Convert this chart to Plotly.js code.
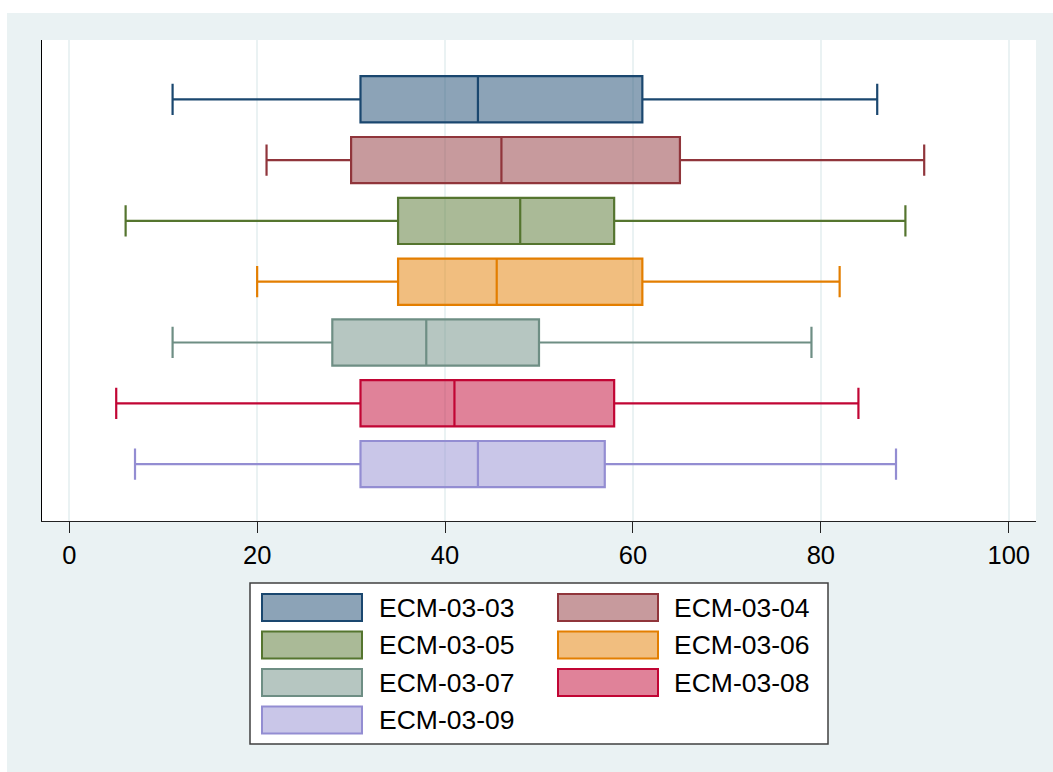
<!DOCTYPE html>
<html>
<head>
<meta charset="utf-8">
<script src="https://cdn.plot.ly/plotly-3.0.1.min.js"></script>
<style>
  html, body { margin: 0; padding: 0; background: #ffffff; width: 1053px; height: 772px; overflow: hidden; }
  #chart { position: absolute; left: 7px; top: 13px; width: 1046px; height: 759px; }
</style>
</head>
<body>
<div id="chart"></div>
<script>
// ---- Data ----
const categories = ['ECM-03-03', 'ECM-03-04', 'ECM-03-05', 'ECM-03-06', 'ECM-03-07', 'ECM-03-08', 'ECM-03-09'];
const lowerWhisker = [11, 21, 6, 20, 11, 5, 7];
const q1Values     = [31, 30, 35, 35, 28, 31, 31];
const medianValues = [43.5, 46, 48, 45.5, 38, 41, 43.5];
const q3Values     = [61, 65, 58, 61, 50, 58, 57];
const upperWhisker = [86, 91, 89, 82, 79, 84, 88];
const xTickValues  = [0, 20, 40, 60, 80, 100];
const xTickLabels  = ['0', '20', '40', '60', '80', '100'];

// ---- Styles ----
const lineColors = ['#1a476f', '#90353b', '#55752f', '#e37e00', '#6e8e84', '#c10534', '#938dd2'];
function hexToRgba(hex, a) {
  const r = parseInt(hex.slice(1, 3), 16), g = parseInt(hex.slice(3, 5), 16), b = parseInt(hex.slice(5, 7), 16);
  return 'rgba(' + r + ',' + g + ',' + b + ',' + a + ')';
}
const FONT = 'Liberation Sans, Arial, Helvetica, sans-serif';
const BG = '#eaf2f3';

const traces = categories.map((name, i) => ({
  type: 'box',
  orientation: 'h',
  name: name,
  y: [name],
  q1: [q1Values[i]],
  median: [medianValues[i]],
  q3: [q3Values[i]],
  lowerfence: [lowerWhisker[i]],
  upperfence: [upperWhisker[i]],
  width: 0.76,
  whiskerwidth: 0.676,
  boxpoints: false,
  line: { color: lineColors[i], width: 2.2 },
  fillcolor: hexToRgba(lineColors[i], 0.5),
  showlegend: false,
  hoverinfo: 'skip'
}));

// page-pixel -> paper helpers (plot area: x 42..1036, y 40..521 on page)
const PX0 = 42, PW = 994, PY1 = 521, PH = 481;
const px = v => (v - PX0) / PW;
const py = v => (PY1 - v) / PH;

const shapes = [];
const annotations = [];
// legend frame
shapes.push({ type: 'rect', xref: 'paper', yref: 'paper', x0: px(250), x1: px(828), y0: py(744), y1: py(583),
  fillcolor: '#ffffff', line: { color: '#404040', width: 1.5 }, layer: 'above' });
const colSwatchX = [262, 558];
const colTextX = [377, 672];
const rowY = [607.5, 645, 682.5, 720];
categories.forEach((name, i) => {
  const col = i % 2, row = Math.floor(i / 2);
  const cy = rowY[row];
  shapes.push({ type: 'rect', xref: 'paper', yref: 'paper',
    x0: px(colSwatchX[col]), x1: px(colSwatchX[col] + 100), y0: py(cy + 13.5), y1: py(cy - 13.5),
    fillcolor: hexToRgba(lineColors[i], 0.5), line: { color: lineColors[i], width: 2 }, layer: 'above' });
  annotations.push({ xref: 'paper', yref: 'paper', x: px(colTextX[col]), y: py(cy),
    xanchor: 'left', yanchor: 'middle', text: name, showarrow: false,
    font: { family: FONT, size: 26.5, color: '#000000' } });
});

const layout = {
  width: 1046, height: 759,
  margin: { l: 35, r: 17, t: 27, b: 251, pad: 0 },
  paper_bgcolor: BG,
  plot_bgcolor: '#ffffff',
  showlegend: false,
  boxmode: 'overlay',
  font: { family: FONT, color: '#000000' },
  xaxis: {
    range: [-2.9, 102.9],
    tickvals: xTickValues,
    ticktext: xTickLabels,
    showgrid: true,
    gridcolor: BG,
    gridwidth: 2,
    zeroline: false,
    showline: true,
    linecolor: '#222222',
    linewidth: 1.2,
    ticks: 'outside',
    ticklen: 11,
    tickwidth: 1,
    tickcolor: '#222222',
    tickfont: { family: FONT, size: 25.5, color: '#000000' },
    fixedrange: true
  },
  yaxis: {
    type: 'category',
    categoryorder: 'array',
    categoryarray: categories,
    range: [6.936, -0.975],
    showticklabels: false,
    ticks: '',
    showgrid: false,
    zeroline: false,
    showline: true,
    linecolor: '#000000',
    linewidth: 1.5,
    fixedrange: true
  },
  shapes: shapes,
  annotations: annotations
};

Plotly.newPlot('chart', traces, layout, { displayModeBar: false, staticPlot: true });
</script>
</body>
</html>
